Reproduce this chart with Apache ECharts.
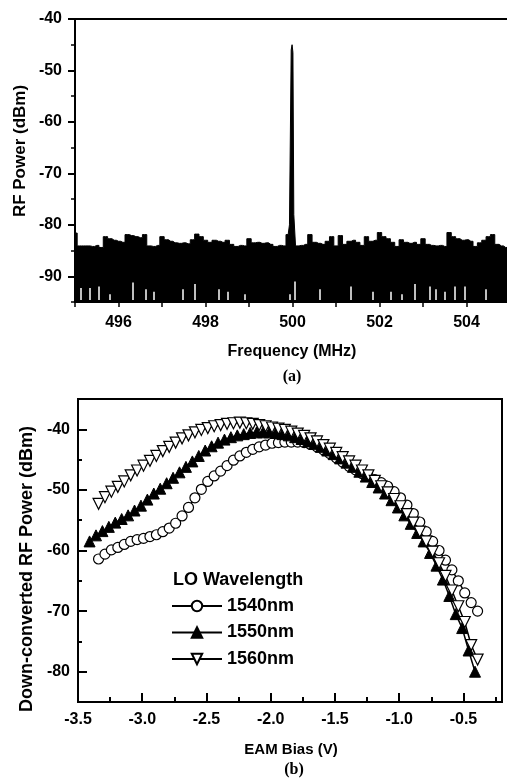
<!DOCTYPE html>
<html><head><meta charset="utf-8">
<script src="https://cdn.jsdelivr.net/npm/echarts@6/dist/echarts.min.js"></script>
<style>
html,body{margin:0;padding:0;background:#fff;width:507px;height:779px;overflow:hidden;position:relative}
#a{position:absolute;left:0;top:-20px;width:507px;height:410px}
#b{position:absolute;left:0;top:0;width:507px;height:779px}
</style>
</head><body><div id="a"></div><div id="b"></div><script>
// ---------- (a) RF spectrum ----------
const freqMHz = [495.0,495.1,495.2,495.3,495.4,495.5,495.6,495.7,495.8,495.9,
 496.0,496.1,496.2,496.3,496.4,496.5,496.6,496.7,496.8,496.9,
 497.0,497.1,497.2,497.3,497.4,497.5,497.6,497.7,497.8,497.9,
 498.0,498.1,498.2,498.3,498.4,498.5,498.6,498.7,498.8,498.9,
 499.0,499.1,499.2,499.3,499.4,499.5,499.6,499.7,499.8,499.9,
 499.96,499.98,500.0,500.02,500.04,
 500.1,500.2,500.3,500.4,500.5,500.6,500.7,500.8,500.9,
 501.0,501.1,501.2,501.3,501.4,501.5,501.6,501.7,501.8,501.9,
 502.0,502.1,502.2,502.3,502.4,502.5,502.6,502.7,502.8,502.9,
 503.0,503.1,503.2,503.3,503.4,503.5,503.6,503.7,503.8,503.9,
 504.0,504.1,504.2,504.3,504.4,504.5,504.6,504.7,504.8,504.9,505.0];
const rfPowerDbm = [-81.6,-84.1,-84.1,-84.1,-84.2,-84.0,-84.4,-82.3,-82.7,-83.0,
 -83.2,-83.4,-81.9,-82.1,-82.3,-82.5,-81.9,-84.1,-84.2,-84.0,
 -82.3,-82.9,-83.2,-83.5,-83.6,-83.5,-83.7,-82.9,-81.8,-82.3,
 -83.0,-83.4,-83.0,-83.2,-83.4,-83.0,-83.8,-84.2,-84.0,-84.1,
 -82.7,-83.5,-83.4,-83.6,-83.5,-83.8,-84.2,-84.0,-84.1,-81.9,
 -80,-46,-45,-46.5,-78,
 -84.1,-84.0,-83.8,-81.9,-83.4,-83.6,-83.8,-83.2,-82.3,
 -84.1,-82.1,-83.8,-83.2,-83.0,-83.4,-84.0,-82.3,-83.2,-83.0,
 -81.5,-82.3,-82.7,-83.4,-84.2,-82.9,-83.4,-83.6,-83.4,-83.8,
 -82.7,-83.8,-84.0,-84.1,-84.0,-84.2,-81.5,-82.3,-82.7,-83.0,
 -82.9,-83.2,-84.2,-83.5,-83.0,-82.3,-81.9,-83.8,-84.1,-84.4,-84.3];
// narrow gaps near the floor (trace minima not reaching bottom)
const gapFreq = [495.13,495.34,495.54,495.81,496.32,496.62,496.8,497.48,497.76,498.3,498.52,498.91,499.93,500.06,500.63,501.35,501.85,502.27,502.5,502.81,503.15,503.3,503.49,503.72,503.95,504.45];
const gapTop  = [-92.3,-92.3,-92.0,-93.5,-91.2,-92.5,-93.0,-92.5,-91.5,-92.5,-93.0,-93.5,-93.5,-91.0,-92.5,-92.0,-93.0,-93.0,-93.5,-91.5,-92.0,-92.5,-93.0,-92.0,-92.0,-92.5];
const aXTicks = [496,498,500,502,504];
const aYMajor = [-90,-80,-70,-60,-50,-40];
const aYMinor = [-95,-85,-75,-65,-55,-45];

// ---------- (b) EAM bias sweep ----------
const biasA = [-3.34,-3.29,-3.24,-3.19,-3.14,-3.09,-3.04,-2.99,-2.94,-2.89,-2.84,-2.79,-2.74,-2.69,-2.64,-2.59,-2.54,-2.49,-2.44,-2.39,
 -2.34,-2.29,-2.24,-2.19,-2.14,-2.09,-2.04,-1.99,-1.94,-1.89,-1.84,-1.79,-1.74,-1.69,-1.64,-1.59,-1.54,-1.49,-1.44,-1.39,
 -1.34,-1.29,-1.24,-1.19,-1.14,-1.09,-1.04,-0.99,-0.94,-0.89,-0.84,-0.79,-0.74,-0.69,-0.64,-0.59,-0.54,-0.49,-0.44,-0.39];
const biasB = [-3.41,-3.36,-3.31,-3.26,-3.21,-3.16,-3.11,-3.06,-3.01,-2.96,-2.91,-2.86,-2.81,-2.76,-2.71,-2.66,-2.61,-2.56,-2.51,-2.46,
 -2.41,-2.36,-2.31,-2.26,-2.21,-2.16,-2.11,-2.06,-2.01,-1.96,-1.91,-1.86,-1.81,-1.76,-1.71,-1.66,-1.61,-1.56,-1.51,-1.46,
 -1.41,-1.36,-1.31,-1.26,-1.21,-1.16,-1.11,-1.06,-1.01,-0.96,-0.91,-0.86,-0.81,-0.76,-0.71,-0.66,-0.61,-0.56,-0.51,-0.46,-0.41];
const p1540 = [-61.4,-60.6,-59.9,-59.5,-59.0,-58.5,-58.2,-58.0,-57.7,-57.4,-56.9,-56.3,-55.5,-54.3,-52.9,-51.3,-49.9,-48.6,-47.7,-46.9,
 -46.0,-45.1,-44.4,-43.8,-43.3,-42.9,-42.6,-42.3,-42.2,-42.1,-42.1,-42.1,-42.2,-42.5,-42.9,-43.4,-44.0,-44.7,-45.4,-46.1,
 -46.7,-47.3,-47.8,-48.3,-48.8,-49.4,-50.3,-51.3,-52.5,-53.9,-55.3,-56.9,-58.5,-60.0,-61.6,-63.2,-65.0,-67.0,-68.6,-70.0];
const p1550 = [-58.5,-57.5,-56.8,-56.1,-55.4,-54.8,-54.2,-53.4,-52.6,-51.6,-50.6,-49.8,-48.9,-48.0,-47.1,-46.2,-45.3,-44.4,-43.5,-42.8,
 -42.2,-41.7,-41.3,-41.0,-40.8,-40.6,-40.5,-40.5,-40.5,-40.6,-40.8,-41.0,-41.3,-41.6,-42.0,-42.4,-42.9,-43.5,-44.1,-44.8,
 -45.5,-46.2,-47.0,-47.8,-48.7,-49.6,-50.6,-51.7,-52.9,-54.2,-55.6,-57.1,-58.5,-60.4,-62.5,-64.8,-67.5,-70.5,-72.8,-76.5,-80.0];
const p1560 = [-52.3,-51.2,-50.3,-49.5,-48.6,-47.6,-46.8,-46.0,-45.2,-44.4,-43.6,-42.9,-42.2,-41.5,-41.0,-40.5,-40.1,-39.8,-39.5,-39.3,
 -39.1,-39.0,-38.9,-39.0,-39.1,-39.3,-39.5,-39.7,-39.9,-40.1,-40.4,-40.7,-41.1,-41.5,-42.0,-42.6,-43.2,-43.9,-44.6,-45.3,
 -46.0,-46.8,-47.6,-48.5,-49.4,-50.4,-51.5,-52.7,-54.0,-55.4,-56.9,-58.5,-60.2,-62.1,-64.2,-66.6,-69.2,-71.8,-75.6,-78.0];
const seriesNames = ['1540nm','1550nm','1560nm'];
const bXMajor = [-3.5,-3.0,-2.5,-2.0,-1.5,-1.0,-0.5];
const bXMinor = [-3.25,-2.75,-2.25,-1.75,-1.25,-0.75,-0.25];
const bYMajor = [-80,-70,-60,-50,-40];
const bYMinor = [-75,-65,-55,-45];

const F = '"Liberation Sans", Arial, sans-serif';
const lbl = {color:'#000', fontFamily:F, fontWeight:'bold', fontSize:16};
const black = {color:'#000', width:2};
const zip = (xs, ys) => xs.map((x,i)=>[x, ys[i]]);
const txt = (x, y, text, font, extra) => Object.assign({type:'text', x, y,
  style:{text, font, fill:'#000', textAlign:'center', textVerticalAlign:'middle'}}, extra || {});

// ---- panel (a): own instance, canvas shifted up by 20px (grid top 39 -> page y 19)
const chartA = echarts.init(document.getElementById('a'), null, {renderer:'canvas'});
chartA.setOption({
  animation:false,
  grid:[{left:75, top:39, width:435, height:283, show:false, outerBoundsMode:'none', containLabel:false}],
  xAxis:[
    {type:'value', position:'bottom', min:495, max:505, interval:1,
     axisLine:{onZero:false, lineStyle:black}, axisTick:{inside:false, length:5, lineStyle:{color:'#000', width:1.5}},
     axisLabel:Object.assign({margin:13, customValues:aXTicks}, lbl), splitLine:{show:false}}
  ],
  yAxis:[
    {type:'value', position:'left', min:-95, max:-40, interval:5,
     axisLine:{show:true, onZero:false, lineStyle:black}, axisTick:{show:true, inside:false, length:7, customValues:aYMajor, lineStyle:{color:'#000', width:2}},
     axisLabel:Object.assign({margin:13, customValues:aYMajor}, lbl), splitLine:{show:false}},
    {type:'value', position:'left', min:-95, max:-40, interval:5,
     axisLine:{show:false, onZero:false}, axisTick:{show:true, inside:false, length:4, customValues:aYMinor, lineStyle:{color:'#000', width:1.5}},
     axisLabel:{show:false}, splitLine:{show:false}}
  ],
  graphic:[
    txt(20, 171, 'RF Power (dBm)', 'bold 17px '+F, {rotation:Math.PI/2}),
    txt(292, 372, 'Frequency (MHz)', 'bold 16px '+F),
    txt(292, 397, '(a)', 'bold 16px "Liberation Serif", serif')
  ],
  series:[
    {type:'line', xAxisIndex:0, yAxisIndex:0, data:zip(freqMHz, rfPowerDbm), step:'middle',
     symbol:'none', lineStyle:{color:'#000', width:1}, areaStyle:{color:'#000', opacity:1, origin:'start'},
     markLine:{silent:true, symbol:['none','none'], label:{show:false},
       lineStyle:{color:'#fff', width:1.5, type:'solid'},
       data:gapFreq.map((f,i)=>[{coord:[f,-94.6]},{coord:[f,gapTop[i]]}])}}
  ]
});

// ---- panel (b) (also carries the top frame of panel (a) on its transparent canvas, drawn above panel (a))
const chartB = echarts.init(document.getElementById('b'), null, {renderer:'canvas'});
chartB.setOption({
  animation:false,
  grid:[
    {left:78, top:399, width:424, height:303, show:true, borderColor:'#000', borderWidth:2, outerBoundsMode:'none', containLabel:false},
    {left:75, top:19, width:435, height:283, show:false, outerBoundsMode:'none', containLabel:false}
  ],
  xAxis:[
    {gridIndex:0, type:'value', position:'bottom', min:-3.5, max:-0.2, interval:0.25,
     axisLine:{onZero:false, lineStyle:black}, axisTick:{inside:true, length:9, customValues:bXMajor, lineStyle:{color:'#000', width:2}},
     axisLabel:Object.assign({margin:10, customValues:bXMajor, formatter:v=>v.toFixed(1)}, lbl), splitLine:{show:false}},
    {gridIndex:0, type:'value', position:'bottom', min:-3.5, max:-0.2, interval:0.25,
     axisLine:{show:false, onZero:false}, axisTick:{inside:true, length:5, customValues:bXMinor, lineStyle:{color:'#000', width:2}},
     axisLabel:{show:false}, splitLine:{show:false}},
    {gridIndex:1, type:'value', position:'top', min:495, max:505,
     axisLine:{show:true, onZero:false, lineStyle:black}, axisTick:{show:false}, axisLabel:{show:false}, splitLine:{show:false}}
  ],
  yAxis:[
    {gridIndex:0, type:'value', position:'left', min:-85, max:-35, interval:5,
     axisLine:{show:true, onZero:false, lineStyle:black}, axisTick:{show:true, inside:true, length:9, customValues:bYMajor, lineStyle:{color:'#000', width:2}},
     axisLabel:Object.assign({margin:8, customValues:bYMajor}, lbl), splitLine:{show:false}},
    {gridIndex:0, type:'value', position:'left', min:-85, max:-35, interval:5,
     axisLine:{show:false, onZero:false}, axisTick:{show:true, inside:true, length:4, customValues:bYMinor, lineStyle:{color:'#000', width:2}},
     axisLabel:{show:false}, splitLine:{show:false}},
    {gridIndex:1, type:'value', position:'left', min:-95, max:-40,
     axisLine:{show:false}, axisTick:{show:false}, axisLabel:{show:false}, splitLine:{show:false}}
  ],
  legend:{
    data:seriesNames, orient:'vertical', left:171, top:597, padding:0,
    itemWidth:50, itemHeight:13, itemGap:8.5,
    textStyle:{color:'#000', fontFamily:F, fontWeight:'bold', fontSize:18}
  },
  graphic:[
    txt(27, 569, 'Down-converted RF Power (dBm)', 'bold 18px '+F, {rotation:Math.PI/2}),
    txt(291, 750, 'EAM Bias (V)', 'bold 15px '+F),
    txt(294, 770, '(b)', 'bold 16px "Liberation Serif", serif'),
    {type:'text', x:173, y:580, style:{text:'LO Wavelength', font:'bold 18px '+F, fill:'#000', textAlign:'left', textVerticalAlign:'middle'}}
  ],
  series:[
    {name:'1540nm', type:'line', xAxisIndex:0, yAxisIndex:0, data:zip(biasA, p1540),
     symbol:'circle', symbolSize:10, lineStyle:{color:'#000', width:1.5},
     itemStyle:{color:'#fff', borderColor:'#000', borderWidth:1.2}},
    {name:'1550nm', type:'line', xAxisIndex:0, yAxisIndex:0, data:zip(biasB, p1550),
     symbol:'triangle', symbolSize:11, lineStyle:{color:'#000', width:1.5},
     itemStyle:{color:'#000', borderColor:'#000', borderWidth:1}},
    {name:'1560nm', type:'line', xAxisIndex:0, yAxisIndex:0, data:zip(biasA, p1560),
     symbol:'triangle', symbolRotate:180, symbolSize:11, lineStyle:{color:'#000', width:1.5},
     itemStyle:{color:'#fff', borderColor:'#000', borderWidth:1.2}}
  ]
});
</script></body></html>
